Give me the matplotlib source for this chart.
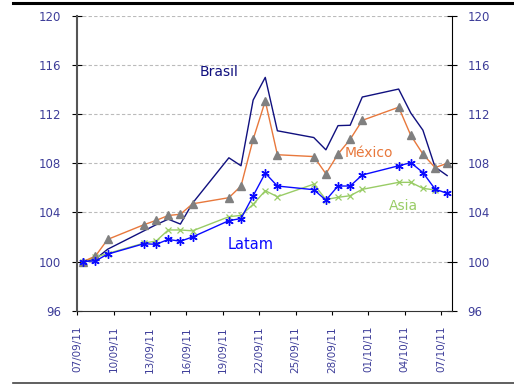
import matplotlib
matplotlib.use("Agg")
import matplotlib.pyplot as plt
import matplotlib.dates as mdates
from matplotlib.lines import Line2D
import numpy as np
import pandas as pd

dates = ["2011-09-07", "2011-09-08", "2011-09-09", "2011-09-12", "2011-09-13",
         "2011-09-14", "2011-09-15", "2011-09-16", "2011-09-19", "2011-09-20",
         "2011-09-21", "2011-09-22", "2011-09-23", "2011-09-26", "2011-09-27",
         "2011-09-28", "2011-09-29", "2011-09-30", "2011-10-03", "2011-10-04",
         "2011-10-05", "2011-10-06", "2011-10-07"]

brasil = [100.0, 100.2, 101.0, 102.5, 103.0, 103.45, 103.05, 104.75, 108.45, 107.8,
          113.15, 115.0, 110.65, 110.1, 109.1, 111.07, 111.1, 113.4, 114.05, 112.1,
          110.7, 107.7, 107.0]
mexico = [100.0, 100.45, 101.8, 103.0, 103.35, 103.75, 103.85, 104.7, 105.2, 106.15,
          109.95, 113.08, 108.7, 108.55, 107.15, 108.75, 109.95, 111.5, 112.57, 110.28,
          108.75, 107.65, 108.0]
latam = [100.0, 100.05, 100.6, 101.45, 101.4, 101.8, 101.65, 102.0, 103.33, 103.5,
         105.35, 107.2, 106.15, 105.85, 105.0, 106.15, 106.15, 107.05, 107.8, 108.05,
         107.25, 105.9, 105.55]
asia = [100.0, 100.35, 100.65, 101.5, 101.67, 102.57, 102.57, 102.5, 103.65, 103.76,
        104.66, 105.77, 105.28, 106.3, 105.05, 105.23, 105.36, 105.88, 106.45, 106.45,
        105.96, 105.83, np.nan]

# daily points sit in the middle of each day's slot
x = pd.to_datetime(dates) + pd.Timedelta(hours=12)

tick_color = "#3d3d99"
navy = "#10107f"
orange = "#e8783c"
blue = "#0a0aff"
green = "#99cc66"

fig = plt.figure(figsize=(5.14, 3.85), dpi=100)
ax = fig.add_axes([0.1504, 0.1932, 0.7284, 0.7652])

ax.plot(x, brasil, color=navy, lw=1.0, zorder=3)
ax.plot(x, asia, color=green, lw=1.0, marker="x", ms=5, mew=0.9, zorder=4)
ax.plot(x, mexico, color=orange, lw=1.0, marker="^", ms=6,
        mfc="#808080", mec="#808080", zorder=5)
ax.plot(x, latam, color=blue, lw=1.0, marker=(6, 2, 0), ms=6, mew=1.0, zorder=6)

ax.set_ylim(96, 120)
ax.set_yticks(np.arange(96, 121, 4))
ax.set_xlim(pd.Timestamp("2011-09-07"), pd.Timestamp("2011-10-07 21:00"))
ticks = pd.date_range("2011-09-07", "2011-10-07", freq="3D")
ax.set_xticks(ticks)
ax.xaxis.set_major_formatter(mdates.DateFormatter("%d/%m/%y"))

for v in range(100, 121, 4):
    ax.axhline(v, color="#bbbbbb", lw=0.8, ls=(0, (3, 2)), zorder=1)

ax.spines["top"].set_visible(False)
ax.spines["left"].set_color("#555555")
ax.spines["left"].set_linewidth(1.5)
ax.spines["right"].set_color("black")
ax.spines["bottom"].set_color("#333333")

ax.tick_params(axis="y", which="both", left=True, right=True, labelleft=True,
               labelright=True, direction="inout", length=7, labelsize=8.5,
               labelcolor=tick_color, pad=8)
ax.tick_params(axis="x", direction="out", length=3, labelsize=7.5,
               labelcolor=tick_color, pad=8)
for lab in ax.get_xticklabels():
    lab.set_rotation(90)

ax.text(pd.Timestamp("2011-09-17 03:00"), 115.45, "Brasil", color=navy, fontsize=10, va="center")
ax.text(pd.Timestamp("2011-09-29 02:00"), 108.85, "México", color=orange, fontsize=10, va="center")
ax.text(pd.Timestamp("2011-10-02 17:00"), 104.5, "Asia", color=green, fontsize=10, va="center")
ax.text(pd.Timestamp("2011-09-19 10:00"), 101.35, "Latam", color=blue, fontsize=10.5, va="center")

fig.add_artist(Line2D([0.025, 1.0], [0.992, 0.992], color="black", lw=2.2))
fig.add_artist(Line2D([0.025, 1.0], [0.005, 0.005], color="#444444", lw=1.2))

fig.savefig("out.png", dpi=100)
